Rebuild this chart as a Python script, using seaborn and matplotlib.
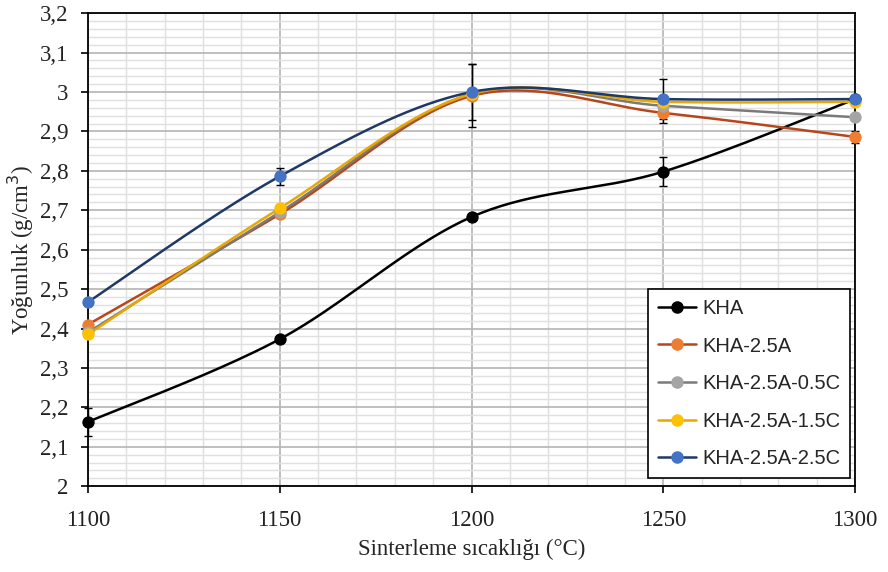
import numpy as np
import pandas as pd
import matplotlib
matplotlib.use("Agg")
import matplotlib.pyplot as plt
from matplotlib.ticker import MultipleLocator, FuncFormatter
from matplotlib.lines import Line2D
import seaborn as sns

temps = [1100, 1150, 1200, 1250, 1300]
series_names = ["KHA", "KHA-2.5A", "KHA-2.5A-0.5C", "KHA-2.5A-1.5C", "KHA-2.5A-2.5C"]
kha = [2.163, 2.373, 2.683, 2.798, 2.982]
kha_25a = [2.41, 2.69, 2.99, 2.947, 2.886]
kha_05c = [2.39, 2.695, 2.995, 2.965, 2.936]
kha_15c = [2.385, 2.705, 2.995, 2.975, 2.975]
kha_25c = [2.467, 2.786, 3.0, 2.982, 2.982]
err_kha = [0.036, 0.0, 0.005, 0.036, 0.01]
err_25a = [0.0, 0.0, 0.08, 0.025, 0.015]
err_05c = [0.0, 0.0, 0.0, 0.0, 0.0]
err_15c = [0.0, 0.0, 0.0, 0.0, 0.0]
err_25c = [0.0, 0.022, 0.072, 0.05, 0.0]

values = [kha, kha_25a, kha_05c, kha_15c, kha_25c]
errors = [err_kha, err_25a, err_05c, err_15c, err_25c]
line_colors = ["#000000", "#b8461a", "#7a7a7a", "#e8a800", "#1f3864"]
marker_colors = ["#000000", "#ed7d31", "#a5a5a5", "#ffc000", "#4472c4"]

sns.set_theme(style="white")
plt.rcParams["font.family"] = ["Liberation Serif", "DejaVu Serif"]


def smooth(x, y, n=40):
    # Excel-like smoothed line: cubic Bezier with Catmull-Rom control points
    x = np.asarray(x, float)
    y = np.asarray(y, float)
    px = np.concatenate([[x[0]], x, [x[-1]]])
    py = np.concatenate([[y[0]], y, [y[-1]]])
    xs, ys = [], []
    t = np.linspace(0, 1, n)
    for i in range(1, len(px) - 2):
        p0 = np.array([px[i], py[i]])
        p3 = np.array([px[i + 1], py[i + 1]])
        c1 = p0 + (np.array([px[i + 1], py[i + 1]]) - np.array([px[i - 1], py[i - 1]])) / 6
        c2 = p3 - (np.array([px[i + 2], py[i + 2]]) - np.array([px[i], py[i]])) / 6
        b = ((1 - t) ** 3)[:, None] * p0 + (3 * (1 - t) ** 2 * t)[:, None] * c1 \
            + (3 * (1 - t) * t ** 2)[:, None] * c2 + (t ** 3)[:, None] * p3
        xs.append(b[:, 0])
        ys.append(b[:, 1])
    return np.concatenate(xs), np.concatenate(ys)


fig = plt.figure(figsize=(8.88, 5.72), dpi=100)
ax = fig.add_axes([0.099, 0.150, 0.864, 0.827])

for name, vals, errs, lc, mc in zip(series_names, values, errors, line_colors, marker_colors):
    sx, sy = smooth(temps, vals)
    curve = pd.DataFrame({"x": sx, "y": sy})
    sns.lineplot(data=curve, x="x", y="y", ax=ax, color=lc, linewidth=1.8,
                 sort=False, estimator=None, zorder=3)
    e = np.asarray(errs)
    if e.any():
        eb = ax.errorbar(temps, vals, yerr=e, fmt="none", ecolor="black",
                         elinewidth=1.0, capsize=3, capthick=1.0, zorder=4)
        for art in eb.lines[1] + eb.lines[2]:
            art.set_clip_on(False)
    pts = pd.DataFrame({"x": temps, "y": vals})
    sns.scatterplot(data=pts, x="x", y="y", ax=ax, color=mc, edgecolor=mc,
                    s=65, linewidth=0.8, zorder=5)
    ax.collections[-1].set_clip_on(False)

ax.set_xlim(1100, 1300)
ax.set_ylim(2.0, 3.2)
ax.xaxis.set_major_locator(MultipleLocator(50))
ax.xaxis.set_minor_locator(MultipleLocator(10))
ax.yaxis.set_major_locator(MultipleLocator(0.1))
ax.yaxis.set_minor_locator(MultipleLocator(0.02))
ax.yaxis.set_major_formatter(FuncFormatter(lambda v, p: ("%.1f" % v).rstrip("0").rstrip(".").replace(".", ",")))
ax.grid(which="major", color="#b4b4b4", linewidth=1.2)
ax.grid(which="minor", color="#e0e0e0", linewidth=1.0)
ax.set_axisbelow(True)
for s in ax.spines.values():
    s.set_color("black")
    s.set_linewidth(1.3)
ax.tick_params(axis="both", which="major", direction="out", length=5, width=1.2,
               color="black", labelsize=16.5, labelcolor="#222222", left=True, bottom=True)
ax.tick_params(axis="both", which="minor", length=0)
ax.tick_params(axis="x", pad=12)
ax.tick_params(axis="y", pad=9)

ax.set_xlabel("Sinterleme sıcaklığı (°C)", fontsize=16.5, labelpad=6)
ax.set_ylabel("Yoğunluk (g/cm$^3$)", fontsize=16.5, labelpad=3)

handles = [Line2D([0], [0], color=lc, linewidth=1.8, marker="o", markersize=8,
                  markerfacecolor=mc, markeredgecolor=mc)
           for lc, mc in zip(line_colors, marker_colors)]
leg = ax.legend(handles, series_names, loc="lower right", bbox_to_anchor=(0.9935, 0.017),
                borderaxespad=0,
                prop={"family": "Liberation Sans", "size": 14.5}, frameon=True, fancybox=False,
                edgecolor="black", framealpha=1, handlelength=1.9, labelspacing=0.92,
                borderpad=0.5, handletextpad=0.3)
leg.get_frame().set_linewidth(1.2)

fig.savefig("out.png", dpi=100)
